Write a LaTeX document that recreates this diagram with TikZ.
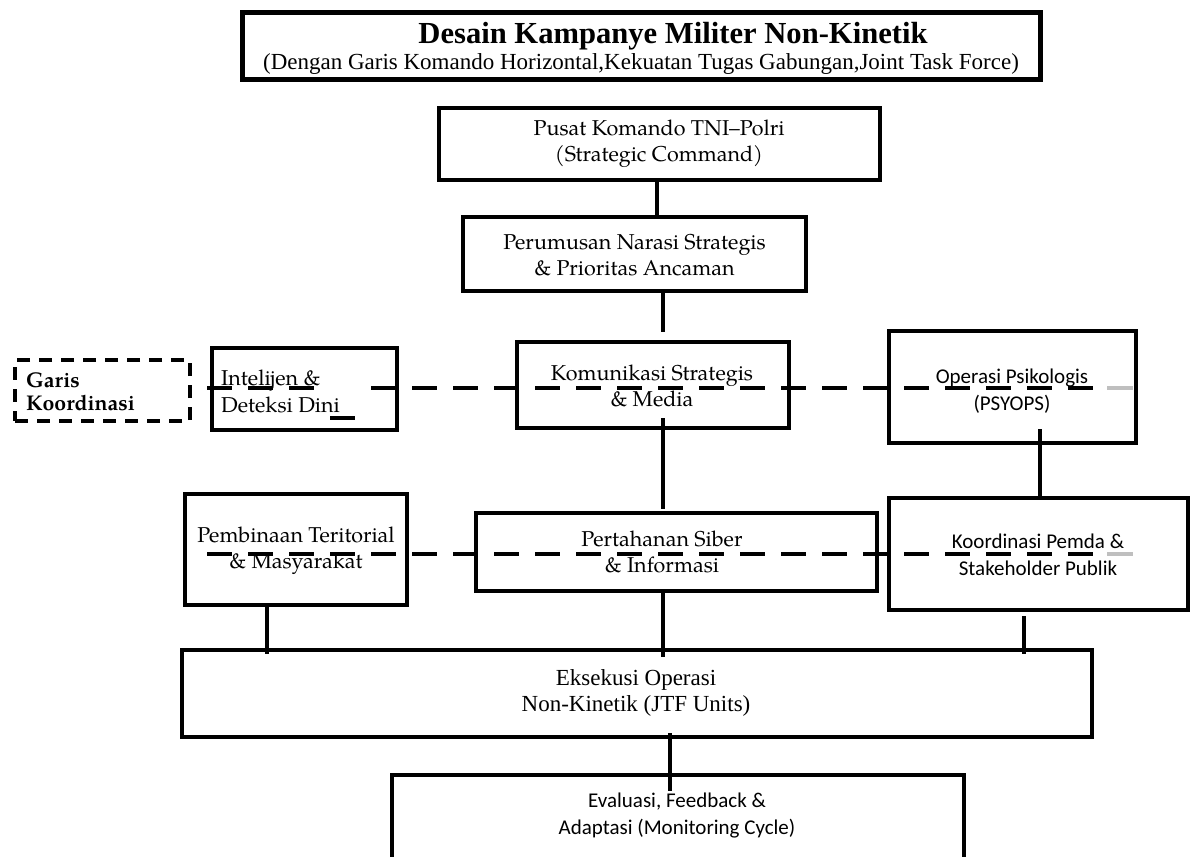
\documentclass[tikz,border=0pt]{standalone}
\usepackage{fontspec}
\setmainfont{Liberation Serif}
\newfontfamily\calibrifont{Carlito}
\newfontfamily\palfont{texgyrepagella}[Extension=.otf, UprightFont=*-regular, BoldFont=*-bold, ItalicFont=*-italic, BoldItalicFont=*-bolditalic]
\usetikzlibrary{calc}
\begin{document}
\begin{tikzpicture}[x=1pt,y=-1pt,
  box/.style={draw=black, line width=4pt, rectangle, inner sep=0pt, outer sep=0pt},
  conn/.style={draw=black, line width=4pt},
  coordline/.style={draw=black, line width=4pt, dash pattern=on 25pt off 16pt},
  fadedash/.style={draw=black!25, line width=4pt},
  paltext/.style={inner sep=0pt, align=center, font=\palfont\fontsize{21.5}{26}\selectfont},
  sertext/.style={inner sep=0pt, align=center, font=\fontsize{23}{26}\selectfont},
  caltext/.style={inner sep=0pt, align=center, font=\calibrifont\fontsize{21}{27}\selectfont},
]
\useasboundingbox (0,0) rectangle (1192,857);
\clip (0,0) rectangle (1192,857);

% boxes
\node[box, line width=5pt, minimum width=798pt, minimum height=67pt] (title) at (641.5,46) {};
\node[box, minimum width=441pt, minimum height=72pt] (pusat) at (659.5,144) {};
\node[box, minimum width=343pt, minimum height=74pt] (perum) at (634.5,254) {};
\node[box, minimum width=272pt, minimum height=86pt] (komun) at (653,385) {};
\node[box, minimum width=185pt, minimum height=82pt] (intel) at (304.5,389) {};
\node[box, dash pattern=on 13pt off 9pt, minimum width=175pt, minimum height=61pt] (garis) at (102.5,390.5) {};
\node[box, minimum width=247pt, minimum height=112pt] (oper) at (1012.5,387) {};
\node[box, minimum width=222pt, minimum height=111pt] (pemb) at (296,549.5) {};
\node[box, minimum width=401pt, minimum height=78pt] (pert) at (676.5,552) {};
\node[box, minimum width=299pt, minimum height=112pt] (koord) at (1038.5,554) {};
\node[box, minimum width=910pt, minimum height=87pt] (eks) at (637,693.5) {};
\node[box, minimum width=572pt, minimum height=125pt] (eval) at (678,837.5) {};

% connector x positions
\coordinate (c1) at (657,0);
\coordinate (c2) at (663,0);
\coordinate (c3) at (1040,0);
\coordinate (c4) at (267,0);
\coordinate (c5) at (1024,0);
\coordinate (c6) at (670,0);

% vertical connectors
\draw[conn] (pusat.south -| c1) -- (perum.north -| c1);
\draw[conn] (perum.south -| c2) -- ($(komun.north -| c2)+(0,-10)$);
\draw[conn] ($(komun.south -| c2)+(0,-10)$) -- ($(pert.north -| c2)+(0,-4)$);
\draw[conn] ($(oper.south -| c3)+(0,-14)$) -- (koord.north -| c3);
\draw[conn] (pemb.south -| c4) -- ($(eks.north -| c4)+(0,4)$);
\draw[conn] (pert.south -| c2) -- ($(eks.north -| c2)+(0,7)$);
\draw[conn] ($(koord.south -| c5)+(0,6)$) -- ($(eks.north -| c5)+(0,4)$);
\draw[conn] ($(eks.south -| c6)+(0,-4)$) -- ($(eval.north -| c6)+(0,16)$);

% dashed coordination lines
\coordinate (r1a) at (207,388);
\coordinate (r1b) at (314,388);
\coordinate (r1c) at (371,388);
\coordinate (r1d) at (1093,388);
\coordinate (r1e) at (330,418);
\coordinate (r1f) at (355,418);
\coordinate (r1g) at (1107,388);
\coordinate (r1h) at (1133,388);
\coordinate (r2a) at (207,554);
\coordinate (r2b) at (1093,554);
\coordinate (r2g) at (1107,554);
\coordinate (r2h) at (1133,554);
\draw[coordline] (r1a) -- (r1b);
\draw[coordline] (r1c) -- (r1d);
\draw[conn] (r1e) -- (r1f);
\draw[fadedash] (r1g) -- (r1h);
\draw[coordline] (r2a) -- (r2b);
\draw[fadedash] (r2g) -- (r2h);

% texts
\node[inner sep=0pt, font=\fontsize{30.6}{34}\selectfont\bfseries] (title-t) at (673,36) {Desain Kampanye Militer Non-Kinetik};
\node[inner sep=0pt, font=\fontsize{23}{26}\selectfont] (title-s) at (641,64) {(Dengan Garis Komando Horizontal,Kekuatan Tugas Gabungan,Joint Task Force)};
\node[paltext] (pusat-t) at (659,144) {Pusat Komando TNI–Polri\\(Strategic Command)};
\node[paltext] (perum-t) at (634.5,255.5) {Perumusan Narasi Strategis\\\& Prioritas Ancaman};
\node[paltext] (komun-t) at (652,385.5) {Komunikasi Strategis\\\& Media};
\node[paltext, align=left, anchor=west, font=\palfont\fontsize{21.5}{27}\selectfont] (intel-t) at (221,391) {Intelijen \&\\Deteksi Dini};
\node[inner sep=0pt, align=left, anchor=west, font=\palfont\fontsize{21.3}{23}\selectfont\bfseries] (garis-t) at (26,391.5) {Garis\\Koordinasi};
\node[caltext] (oper-t) at (1012,391) {Operasi Psikologis\\(PSYOPS)};
\node[paltext] (pemb-t) at (296,550.5) {Pembinaan Teritorial\\\& Masyarakat};
\node[paltext] (pert-t) at (662,551.5) {Pertahanan Siber\\\& Informasi};
\node[caltext] (koord-t) at (1038,555) {Koordinasi Pemda \&\\Stakeholder Publik};
\node[sertext] (eks-t) at (636,693) {Eksekusi Operasi\\Non-Kinetik (JTF Units)};
\node[caltext] (eval-t) at (677,816) {Evaluasi, Feedback \&\\Adaptasi (Monitoring Cycle)};
\end{tikzpicture}
\end{document}
